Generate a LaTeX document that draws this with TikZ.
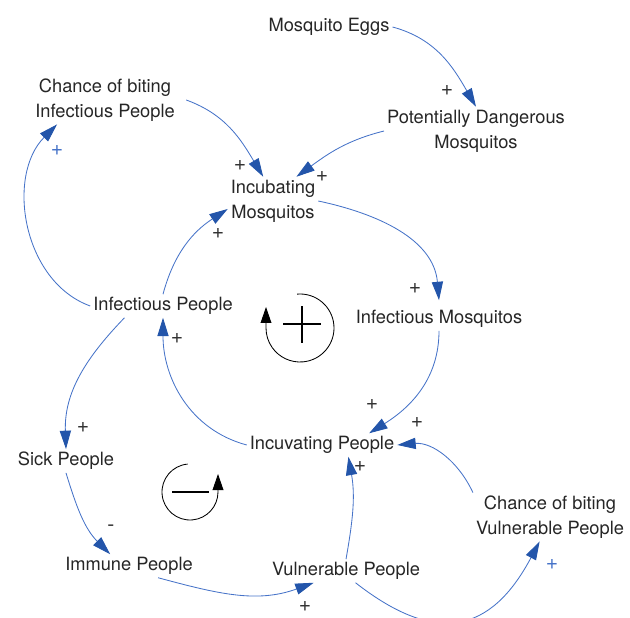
\documentclass[tikz,border=0pt]{standalone}
\usepackage{fontspec}
\setmainfont{TeX Gyre Heros}
\usetikzlibrary{arrows.meta}
\definecolor{lineblue}{RGB}{70,115,200}
\definecolor{arrowblue}{RGB}{35,85,170}
\tikzset{
  var/.style={align=center,inner sep=2pt,text=black!85,font=\fontsize{13pt}{17.8pt}\selectfont},
  link/.style={-{Triangle[length=4.6mm,width=2.8mm,color=arrowblue]},line width=0.6pt,draw=lineblue},
  sign/.style={inner sep=0pt,text=black!80,font=\fontsize{15pt}{15pt}\selectfont},
  sign-b/.style={sign,text=lineblue},
  loopline/.style={-{Triangle[length=4mm,width=2.7mm]},line width=0.6pt,black},
  loopbar/.style={line width=1.6pt,black},
}
\begin{document}
\begin{tikzpicture}[x=0.025cm,y=0.025cm]
  \useasboundingbox (0,0) rectangle (630,617);

  % variables
  \node[var] (eggs)    at (329,590) {Mosquito Eggs};
  \node[var] (danger)  at (476,486) {Potentially Dangerous\\Mosquitos};
  \node[var] (chanceI) at (105,517) {Chance of biting\\Infectious People};
  \node[var] (incM)    at (273,416) {Incubating\\Mosquitos};
  \node[var] (infP)    at (163,311) {Infectious People};
  \node[var] (infM)    at (439,298) {Infectious Mosquitos};
  \node[var] (sick)    at (66,156)  {Sick People};
  \node[var] (incP)    at (322,172) {Incuvating People};
  \node[var] (chanceV) at (550,100) {Chance of biting\\Vulnerable People};
  \node[var] (immune)  at (129,51)  {Immune People};
  \node[var] (vuln)    at (346,46)  {Vulnerable People};

  % links
  \draw[link] (eggs.east)    to[out=-15,in=120] (danger.north);
  \draw[link] (danger.west)  to[out=194,in=36]  (incM.46);
  \draw[link] ([xshift=6pt]chanceI.east) to[out=-20,in=121] (incM.112);
  \draw[link] (incM.east)    to[out=-12,in=95]  ([yshift=5pt]infM.north);
  \draw[link] (infP.north)   to[out=75,in=213]  (incM.190);
  \draw[link] (infP.west)    to[out=160,in=225] (chanceI.207);
  \draw[link] (infM.south)   to[out=-90,in=32]  (incP.14);
  \draw[link] (incP.west)    to[out=165,in=-90] (infP.south);
  \draw[link] (infP.197)     to[out=226,in=92]  (sick.north);
  \draw[link] (sick.south)   to[out=-73,in=135] (immune.148);
  \draw[link] (immune.-22)   to[out=-15,in=200] (vuln.200);
  \draw[link] (vuln.north)   to[out=80,in=-80]  (incP.-24);
  \draw[link] (vuln.-51)     to[out=-38,in=-118,looseness=1.4] (chanceV.247);
  \draw[link] (chanceV.north west) to[out=115,in=5] (incP.east);

  % polarities
  \node[sign]   (s1)  at (447,526) {+};
  \node[sign]   (s2)  at (240,451) {+};
  \node[sign]   (s3)  at (322,440) {+};
  \node[sign]   (s4)  at (218,383) {+};
  \node[sign-b] (s5)  at (57,466)  {+};
  \node[sign]   (s6)  at (415,328) {+};
  \node[sign]   (s7)  at (177,278) {+};
  \node[sign]   (s8)  at (372,212) {+};
  \node[sign]   (s9)  at (417,194) {+};
  \node[sign]   (s10) at (360,150) {+};
  \node[sign]   (s11) at (83,189)  {+};
  \node[sign]   (s12) at (111,89)  {-};
  \node[sign]   (s13) at (305,10)  {+};
  \node[sign-b] (s14) at (552,52)  {+};

  % loop R
  \draw[loopline] (300,289) ++(95:34) arc[start angle=95,end angle=-180,radius=34] -- ++(0,21);
  \draw[loopbar] (283,293) -- (321,293) (302,274) -- (302,311);

  % loop B
  \draw[loopline] (190,125) ++(95:28) arc[start angle=95,end angle=360,radius=28] -- ++(0,18);
  \draw[loopbar] (172,125) -- (209,125);

\end{tikzpicture}
\end{document}
